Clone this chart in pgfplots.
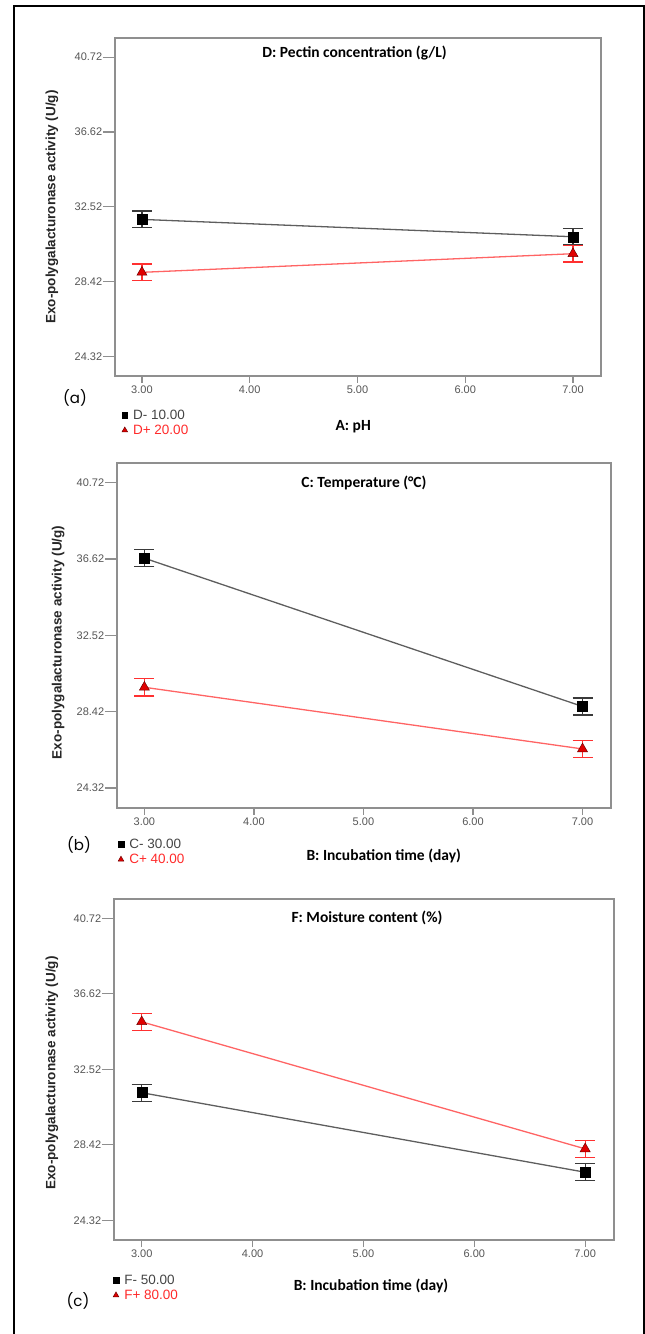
\documentclass[border=0pt]{standalone}
\usepackage{pgfplots}
\pgfplotsset{compat=1.18}
\usepackage{fontspec}
\setmainfont{Liberation Sans}
\newfontfamily\titlefont{Carlito}
\newfontfamily\panelfont{Poppins}

\definecolor{boxgray}{HTML}{8F8F8F}
\definecolor{ticktext}{HTML}{555555}
\definecolor{lowline}{HTML}{5E5E5E}
\definecolor{lowbar}{HTML}{3A3A3A}
\definecolor{highline}{HTML}{FF6464}
\definecolor{highbar}{HTML}{FF3030}
\definecolor{markred}{HTML}{E00000}
\definecolor{markedge}{HTML}{700000}
\definecolor{legtext}{HTML}{444444}
\definecolor{legred}{HTML}{FF2A2A}

\pgfplotsset{
  ipanel/.style={
    scale only axis,
    xmin=2.75, xmax=7.26,
    ymin=23.25, ymax=41.77,
    xtick={3,4,5,6,7},
    ytick={24.32,28.42,32.52,36.62,40.72},
    /pgf/number format/assume math mode=true,
    x tick label style={/pgf/number format/.cd,fixed,fixed zerofill,precision=2,/tikz/.cd, yshift=-2pt},
    y tick label style={/pgf/number format/.cd,fixed,fixed zerofill,precision=2,/tikz/.cd, xshift=-5pt},
    tick label style={font=\fontsize{11}{12}\selectfont, text=ticktext},
    tick align=outside,
    xtick pos=bottom, ytick pos=left,
    axis line style={boxgray, line width=1.6pt},
    tick style={boxgray, line width=1.2pt},
    xtick style={/pgfplots/major tick length=7pt},
    ytick style={/pgfplots/major tick length=12pt},
    title style={anchor=center, yshift=-6pt, font=\titlefont\bfseries\fontsize{15.5}{17}\selectfont},
    x label style={anchor=center, font=\titlefont\bfseries\fontsize{15.5}{17}\selectfont},
    y label style={anchor=center, font=\bfseries\fontsize{13.5}{15}\selectfont, text=black!85},
    ylabel={Exo-polygalacturonase activity (U/g)},
    legend style={anchor=north west, draw=none, fill=none, inner sep=0pt,
      font=\fontsize{13.5}{14}\selectfont, text=legtext, row sep=1pt,
      nodes={inner sep=1.5pt},
      /tikz/every odd column/.append style={column sep=4pt}},
    legend cell align=left,
  },
  lowfit/.style={lowline, line width=1.3pt, forget plot},
  highfit/.style={highline, line width=1.3pt, forget plot},
  lowpts/.style={only marks, mark=square*, mark size=5pt,
    mark options={fill=black, draw=black},
    legend image code/.code={\draw[##1, only marks, mark size=2.8pt] plot coordinates {(0pt,0pt)};},
    error bars/.cd, y dir=both, y explicit,
    error bar style={color=lowbar, line width=1.3pt},
    error mark options={rotate=90, mark size=10pt, line width=1.3pt, draw=lowbar}},
  highpts/.style={only marks, mark=triangle*, mark size=5.8pt,
    mark options={fill=markred, draw=markedge, line width=0.5pt},
    legend image code/.code={\draw[##1, only marks, mark size=3.2pt] plot coordinates {(0pt,0pt)};},
    error bars/.cd, y dir=both, y explicit,
    error bar style={color=highbar, line width=1.3pt},
    error mark options={rotate=90, mark size=10pt, line width=1.3pt, draw=highbar}},
}

\begin{document}
\begin{tikzpicture}[x=1pt,y=1pt]
\useasboundingbox (0,0) rectangle (645,1334);

% (a) pH x pectin
\begin{axis}[ipanel, at={(115pt,958pt)}, anchor=south west, width=486pt, height=338pt,
  title={D: Pectin concentration (g/L)},
  title style={at={(axis description cs:0.493,0.956)}},
  xlabel={A: pH},
  x label style={at={(axis description cs:0.49,-0.151)}},
  y label style={at={(axis description cs:-0.13,0.5)}},
  legend style={at={(axis description cs:0.014,-0.095)}}]
\addplot[lowfit] coordinates {(3,31.83) (7,30.88)};
\addplot[highfit] coordinates {(3,28.93) (7,29.95)};
\addplot[lowpts] coordinates {(3,31.83) +- (0,0.46) (7,30.88) +- (0,0.46)};
\addplot[highpts] coordinates {(3,28.93) +- (0,0.46) (7,29.95) +- (0,0.46)};
\legend{D- 10.00, \textcolor{legred}{D+ 20.00}}
\end{axis}

% (b) incubation time x temperature
\begin{axis}[ipanel, at={(117pt,526pt)}, anchor=south west, width=494pt, height=345pt,
  title={C: Temperature (\textdegree C)},
  title style={at={(axis description cs:0.5,0.942)}},
  xlabel={B: Incubation time (day)},
  x label style={at={(axis description cs:0.54,-0.139)}},
  y label style={at={(axis description cs:-0.119,0.48)}},
  legend style={at={(axis description cs:0.002,-0.085)}}]
\addplot[lowfit] coordinates {(3,36.66) (7,28.70)};
\addplot[highfit] coordinates {(3,29.73) (7,26.42)};
\addplot[lowpts] coordinates {(3,36.66) +- (0,0.46) (7,28.70) +- (0,0.46)};
\addplot[highpts] coordinates {(3,29.73) +- (0,0.46) (7,26.42) +- (0,0.46)};
\legend{C- 30.00, \textcolor{legred}{C+ 40.00}}
\end{axis}

% (c) incubation time x moisture
\begin{axis}[ipanel, at={(114pt,94pt)}, anchor=south west, width=500pt, height=341pt,
  title={F: Moisture content (\%)},
  title style={at={(axis description cs:0.506,0.944)}},
  xlabel={B: Incubation time (day)},
  x label style={at={(axis description cs:0.514,-0.135)}},
  y label style={at={(axis description cs:-0.124,0.49)}},
  legend style={at={(axis description cs:-0.002,-0.097)}}]
\addplot[lowfit] coordinates {(3,31.25) (7,26.93)};
\addplot[highfit] coordinates {(3,35.10) (7,28.20)};
\addplot[lowpts] coordinates {(3,31.25) +- (0,0.46) (7,26.93) +- (0,0.46)};
\addplot[highpts] coordinates {(3,35.10) +- (0,0.46) (7,28.20) +- (0,0.46)};
\legend{F- 50.00, \textcolor{legred}{F+ 80.00}}
\end{axis}

\node[font=\panelfont\fontsize{15}{15}\selectfont] at (75,936) {(a)};
\node[font=\panelfont\fontsize{15}{15}\selectfont] at (79,489) {(b)};
\node[font=\panelfont\fontsize{15}{15}\selectfont] at (78,33) {(c)};

\draw[line width=2pt] (14,-5) -- (14,1328) -- (643.5,1328) -- (643.5,-5);
\end{tikzpicture}
\end{document}
